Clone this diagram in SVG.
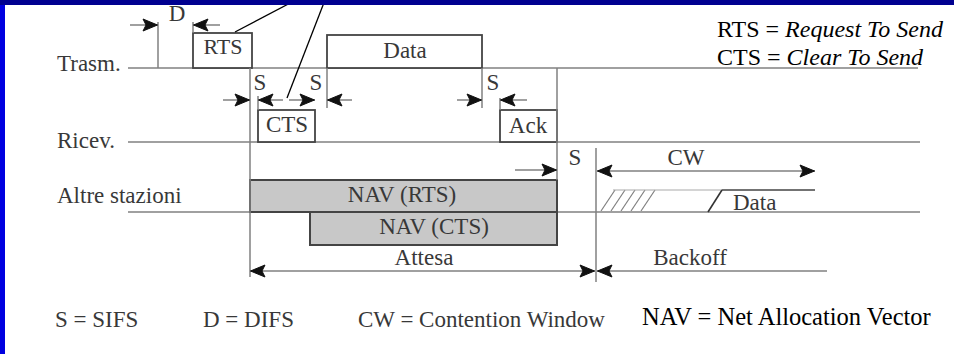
<svg xmlns="http://www.w3.org/2000/svg" xmlns:xlink="http://www.w3.org/1999/xlink" width="954" height="354" viewBox="0 0 954 354">
<style>
.t{font-family:"Liberation Serif","Times New Roman",serif;font-size:23px;fill:#383838}
.c{text-anchor:middle}
.k{font-family:"Liberation Serif","Times New Roman",serif;font-size:24px;fill:#000}
.ln{stroke:#808080;stroke-width:1.5;fill:none}
.bx{stroke:#444;stroke-width:1.8;fill:#fff}
.nav{stroke:#444;stroke-width:2;fill:#c8c8c8}
.ptr{stroke:#000;stroke-width:1.3}
.hd{fill:#111;stroke:#111;stroke-width:1;stroke-linejoin:round}
</style>
<defs>
<path id="hd" d="M-0.5,0 L-15,-6 L-12,0 L-15,6 z"/>
</defs>
<rect x="0" y="0" width="954" height="354" fill="#fff"/>
<rect x="0" y="0" width="5" height="354" fill="#0000e0"/>

<g id="rows">
<line class="ln" x1="128" y1="68" x2="918" y2="68"/>
<line class="ln" x1="128" y1="142" x2="920" y2="142"/>
<line class="ln" x1="128" y1="212" x2="920" y2="212"/>
<text class="t" x="57" y="71">Trasm.</text>
<text class="t" x="57" y="148">Ricev.</text>
<text class="t" x="57" y="203">Altre stazioni</text>
</g>

<g id="rts"><rect class="bx" x="193" y="33" width="59" height="35"/><text class="t c" x="223" y="54" style="font-size:22px">RTS</text></g>
<g id="data-tx"><rect class="bx" x="327" y="35" width="155" height="33"/><text class="t c" x="405" y="58">Data</text></g>
<g id="cts"><rect class="bx" x="258" y="110" width="57" height="32"/><text class="t c" x="287" y="132">CTS</text></g>
<g id="ack"><rect class="bx" x="500" y="110" width="57" height="32"/><text class="t c" x="528" y="133">Ack</text></g>
<g id="nav-rts"><rect class="nav" x="250" y="180" width="307" height="32"/><text class="t c" x="402" y="202">NAV (RTS)</text></g>
<g id="nav-cts"><rect class="nav" x="310" y="212" width="247" height="33"/><text class="t c" x="434" y="234">NAV (CTS)</text></g>

<g id="data-other">
<g class="ln" style="stroke-width:1.2">
<line x1="601" y1="211" x2="615" y2="190"/>
<line x1="611" y1="211" x2="625" y2="190"/>
<line x1="621" y1="211" x2="635" y2="190"/>
<line x1="631" y1="211" x2="645" y2="190"/>
<line x1="641" y1="211" x2="655" y2="190"/>
<line x1="613" y1="190" x2="722" y2="190" style="stroke:#aaa"/>
</g>
<line x1="708" y1="212" x2="722" y2="190" stroke="#333" stroke-width="1.6"/>
<line x1="722" y1="190" x2="815" y2="190" stroke="#444" stroke-width="1.6"/>
<text class="t" x="733" y="210">Data</text>
</g>

<g id="connectors">
<line class="ln" x1="158" y1="22" x2="158" y2="68"/>
<line class="ln" x1="193" y1="22" x2="193" y2="33"/>
<line class="ln" x1="250" y1="68" x2="250" y2="277"/>
<line class="ln" x1="258" y1="96" x2="258" y2="110"/>
<line class="ln" x1="327" y1="68" x2="327" y2="108"/>
<line class="ln" x1="482" y1="68" x2="482" y2="108"/>
<line class="ln" x1="500" y1="98" x2="500" y2="110"/>
<line class="ln" x1="557" y1="68" x2="557" y2="180"/>
<line class="ln" x1="596" y1="148" x2="596" y2="282"/>
<line class="ln" x1="130" y1="25" x2="158" y2="25"/>
<line class="ln" x1="220" y1="25" x2="193" y2="25"/>
<line class="ln" x1="223" y1="100" x2="250" y2="100"/>
<line class="ln" x1="283" y1="100" x2="258" y2="100"/>
<line class="ln" x1="289" y1="100" x2="315" y2="100"/>
<line class="ln" x1="352" y1="100" x2="327" y2="100"/>
<line class="ln" x1="457" y1="100" x2="482" y2="100"/>
<line class="ln" x1="527" y1="100" x2="500" y2="100"/>
<line class="ln" x1="515" y1="170" x2="557" y2="170"/>
<line class="ln" x1="597" y1="171" x2="815" y2="171"/>
<line class="ln" x1="250" y1="271" x2="595" y2="271"/>
<line class="ln" x1="827" y1="271" x2="597" y2="271"/>
<g class="hd">
<use xlink:href="#hd" transform="translate(158,25)"/>
<use xlink:href="#hd" transform="translate(193,25) rotate(180)"/>
<use xlink:href="#hd" transform="translate(250,100)"/>
<use xlink:href="#hd" transform="translate(258,100) rotate(180)"/>
<use xlink:href="#hd" transform="translate(315,100)"/>
<use xlink:href="#hd" transform="translate(327,100) rotate(180)"/>
<use xlink:href="#hd" transform="translate(482,100)"/>
<use xlink:href="#hd" transform="translate(500,100) rotate(180)"/>
<use xlink:href="#hd" transform="translate(557,170)"/>
<use xlink:href="#hd" transform="translate(597,171) rotate(180)"/>
<use xlink:href="#hd" transform="translate(815,171)"/>
<use xlink:href="#hd" transform="translate(250,271) rotate(180)"/>
<use xlink:href="#hd" transform="translate(595,271)"/>
<use xlink:href="#hd" transform="translate(597,271) rotate(180)"/>
</g>
<line class="ptr" x1="235" y1="32" x2="296" y2="0"/>
<line class="ptr" x1="287" y1="98" x2="325" y2="0"/>
<text class="t c" x="177" y="21">D</text>
<text class="t c" x="260" y="90">S</text>
<text class="t c" x="316" y="90">S</text>
<text class="t c" x="493" y="90">S</text>
<text class="t c" x="575" y="165">S</text>
<text class="t c" x="686" y="165">CW</text>
<text class="t c" x="424" y="265">Attesa</text>
<text class="t c" x="690" y="265">Backoff</text>
</g>
<rect x="0" y="0" width="954" height="5" fill="#000090"/>

<g id="legend">
<text class="k" x="717" y="37">RTS = <tspan font-style="italic">Request To Send</tspan></text>
<text class="k" x="717" y="65">CTS = <tspan font-style="italic">Clear To Send</tspan></text>
<text class="t" x="55" y="327">S = SIFS</text>
<text class="t" x="203" y="327">D = DIFS</text>
<text class="t" x="358" y="327">CW = Contention Window</text>
<text class="k" x="642" y="325" style="font-size:24.5px">NAV = Net Allocation Vector</text>
</g>
</svg>
